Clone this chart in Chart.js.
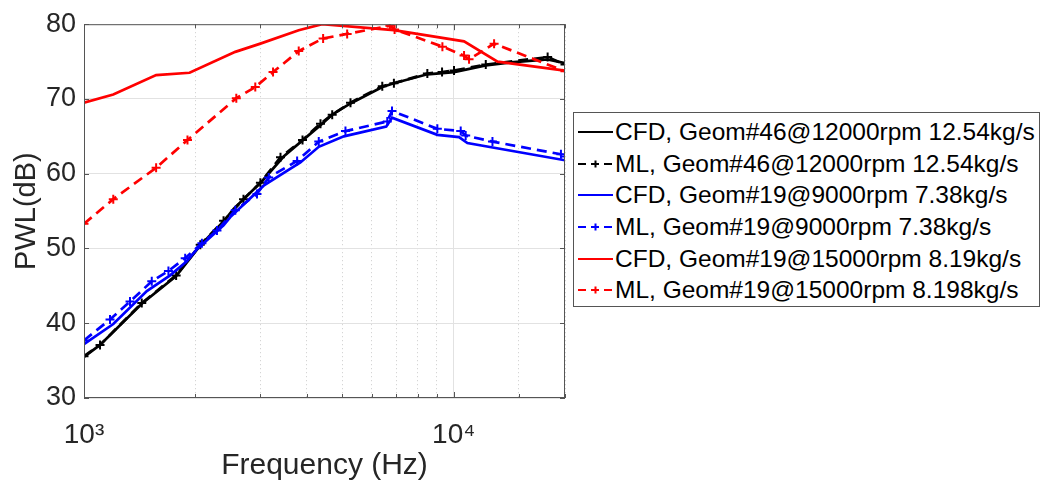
<!DOCTYPE html>
<html>
<head>
<meta charset="utf-8">
<script src="https://cdn.jsdelivr.net/npm/chart.js@4.4.1/dist/chart.umd.min.js"></script>
<style>
	body { margin: 0; background: #fff; }
	#wrap { position: relative; width: 1040px; height: 487px; }
	#legend {
		position: absolute; left: 573px; top: 112px; width: 467px; height: 195px;
		border: 1px solid #555; background: #fff; box-sizing: border-box; padding-top: 3px;
		font-family: "Liberation Sans", Arial, sans-serif; font-size: 24.5px; color: #000;
	}
	.row { height: 31.7px; display: flex; align-items: center; white-space: nowrap; }
	.row svg { margin-left: 4px; margin-right: 2px; flex: none; }
</style>
</head>
<body>
<div id="wrap">
	<canvas id="pwl" width="1040" height="487"></canvas>
	<div id="legend"></div>
</div>
<script>
var FONT = '"Liberation Sans", Arial, sans-serif';

// CFD / ML, Geom#46 @ 12000 rpm
var freqCfd46 = [1000, 1105, 1433, 1775, 2063, 2385, 2539, 3030, 3467, 4362, 4692, 5258, 6409, 6890, 8486, 10020, 12210, 14270, 17950, 20000];
var pwlCfd46  = [35.5, 37.1, 42.6, 46.3, 50.4, 53.6, 55.3, 59.0, 62.3, 66.5, 67.9, 69.4, 71.6, 72.1, 73.3, 73.6, 74.5, 74.9, 75.3, 74.8];
var freqMl46  = [1000, 1105, 1433, 1775, 2063, 2385, 2700, 3000, 3400, 3900, 4362, 4692, 5258, 6409, 6890, 8486, 9300, 10020, 12210, 17950, 20000];
var pwlMl46   = [35.6, 37.1, 42.7, 46.4, 50.5, 53.7, 56.6, 58.8, 62.2, 64.5, 66.7, 67.9, 69.5, 71.7, 72.1, 73.4, 73.6, 73.8, 74.6, 75.6, 74.6];

// CFD / ML, Geom#19 @ 9000 rpm
var freqCfd19a = [1000, 1200, 1479, 1710, 1897, 2020, 2385, 2487, 3061, 3848, 4315, 5045, 6568, 6810, 9031, 10337, 10890, 20000];
var pwlCfd19a  = [37.2, 39.9, 44.3, 46.4, 48.3, 49.9, 53.1, 54.2, 58.4, 61.5, 63.6, 65.0, 66.3, 67.5, 65.2, 64.9, 64.1, 61.8];
var freqMl19a  = [1000, 1176, 1332, 1525, 1692, 1878, 2084, 2289, 2566, 2937, 3159, 3771, 4315, 5096, 6612, 6810, 9031, 10446, 10774, 12730, 19500, 20000];
var pwlMl19a   = [37.7, 40.5, 42.9, 45.6, 47.0, 48.7, 50.7, 52.4, 55.1, 57.3, 59.5, 61.7, 64.3, 65.7, 67.0, 68.4, 66.0, 65.7, 65.1, 64.3, 62.6, 62.3];

// CFD / ML, Geom#19 @ 15000 rpm
var freqCfd19b = [1000, 1200, 1567, 1930, 2566, 3000, 3809, 4406, 6890, 10665, 13140, 20000];
var pwlCfd19b  = [69.5, 70.6, 73.2, 73.5, 76.3, 77.4, 79.2, 80.0, 79.2, 77.7, 75.0, 73.8];
var freqMl19b  = [1000, 1200, 1567, 1905, 2582, 2906, 3246, 3809, 4434, 5150, 6719, 6920, 9320, 10665, 11003, 12860, 20000];
var pwlMl19b   = [53.3, 56.6, 60.8, 64.5, 70.1, 71.6, 73.6, 76.4, 78.1, 78.7, 79.8, 79.3, 77.0, 75.8, 75.3, 77.4, 73.7];

var labels = [
	'CFD, Geom#46@12000rpm 12.54kg/s',
	'ML, Geom#46@12000rpm 12.54kg/s',
	'CFD, Geom#19@9000rpm 7.38kg/s',
	'ML, Geom#19@9000rpm 7.38kg/s',
	'CFD, Geom#19@15000rpm 8.19kg/s',
	'ML, Geom#19@15000rpm 8.198kg/s'
];
var colors = ['#000000', '#000000', '#0000ff', '#0000ff', '#ff0000', '#ff0000'];

function pts(f, v) {
	return f.map(function(x, i){ return {x: x, y: v[i]}; });
}

var series = [
	pts(freqCfd46, pwlCfd46), pts(freqMl46, pwlMl46),
	pts(freqCfd19a, pwlCfd19a), pts(freqMl19a, pwlMl19a),
	pts(freqCfd19b, pwlCfd19b), pts(freqMl19b, pwlMl19b)
];

var datasets = series.map(function(d, i){
	var ml = i % 2 == 1;
	return {
		label: labels[i],
		data: d,
		borderColor: colors[i],
		backgroundColor: colors[i],
		borderWidth: 2.7,
		borderDash: ml ? [10, 6] : [],
		pointStyle: 'cross',
		pointRadius: ml ? 4.5 : 0,
		pointBorderWidth: 2,
		pointBorderColor: colors[i],
		tension: 0,
		order: 6 - i
	};
});

function isMajor(ctx) {
	if (!ctx.tick) return true;
	var l = Math.log10(ctx.tick.value);
	return Math.abs(l - Math.round(l)) < 1e-9;
}

// matlab style box + inward ticks
var boxPlugin = {
	id: 'box',
	afterDraw: function(chart) {
		var c = chart.ctx, a = chart.chartArea;
		var xs = chart.scales.x, ys = chart.scales.y;
		c.save();
		c.strokeStyle = '#555';
		c.lineWidth = 1;
		c.strokeRect(a.left + 0.5, a.top + 0.5, a.right - a.left - 1, a.bottom - a.top - 1);
		c.beginPath();
		xs.ticks.forEach(function(t){
			var px = Math.round(xs.getPixelForValue(t.value)) + 0.5;
			var l = isMajor({tick: t}) ? 6 : 4;
			c.moveTo(px, a.bottom); c.lineTo(px, a.bottom - l);
			c.moveTo(px, a.top); c.lineTo(px, a.top + l);
		});
		ys.ticks.forEach(function(t){
			var py = Math.round(ys.getPixelForValue(t.value)) + 0.5;
			c.moveTo(a.left, py); c.lineTo(a.left + 5, py);
			c.moveTo(a.right, py); c.lineTo(a.right - 5, py);
		});
		c.stroke();
		c.restore();
	}
};

var chart = new Chart('pwl', {
	type: 'line',
	data: { datasets: datasets },
	plugins: [boxPlugin],
	options: {
		responsive: false,
		animation: false,
		layout: { padding: { top: 20, right: 475, left: 0, bottom: 0 } },
		plugins: { legend: { display: false }, tooltip: { enabled: false } },
		scales: {
			x: {
				type: 'logarithmic',
				min: 1000,
				max: 20000,
				afterFit: function(s){ s.height = 89; },
				ticks: {
					autoSkip: false,
					maxRotation: 0,
					padding: 20,
					color: '#262626',
					font: { family: FONT, size: 28 },
					callback: function(v){
						if (v === 1000) return '10\u00b3';
						if (v === 10000) return '10\u2074';
						return '';
					}
				},
				grid: {
					drawTicks: false,
					lineWidth: 1,
					color: function(ctx){ return isMajor(ctx) ? '#e2e2e2' : '#cccccc'; }
				},
				border: {
					display: false,
					dash: function(ctx){ return isMajor(ctx) ? [] : [1, 3]; }
				},
				title: {
					display: true,
					text: 'Frequency (Hz)',
					color: '#262626',
					font: { family: FONT, size: 30 },
					padding: { top: 0, bottom: 3 }
				}
			},
			y: {
				min: 30,
				max: 80,
				afterFit: function(s){ s.width = 84; },
				ticks: {
					stepSize: 10,
					padding: 8,
					color: '#262626',
					font: { family: FONT, size: 27 }
				},
				grid: { drawTicks: false, lineWidth: 1, color: '#e2e2e2' },
				border: { display: false },
				title: {
					display: true,
					text: 'PWL(dB)',
					color: '#262626',
					font: { family: FONT, size: 29 },
					padding: { top: 10, bottom: 0 }
				}
			}
		}
	}
});

// legend outside the axes, like the matlab one
var leg = document.getElementById('legend');
datasets.forEach(function(ds, i){
	var ml = i % 2 == 1;
	var svg = '<svg width="35" height="12" viewBox="0 0 35 12">' +
		'<line x1="0" y1="6" x2="35" y2="6" stroke="' + ds.borderColor + '" stroke-width="2"' +
		(ml ? ' stroke-dasharray="8,5"' : '') + '/>' +
		(ml ? '<path d="M17.5 2.5V9.5M14 6H21" stroke="' + ds.borderColor + '" stroke-width="2"/>' : '') +
		'</svg>';
	var row = document.createElement('div');
	row.className = 'row';
	row.innerHTML = svg + '<span>' + ds.label + '</span>';
	leg.appendChild(row);
});
</script>
</body>
</html>
